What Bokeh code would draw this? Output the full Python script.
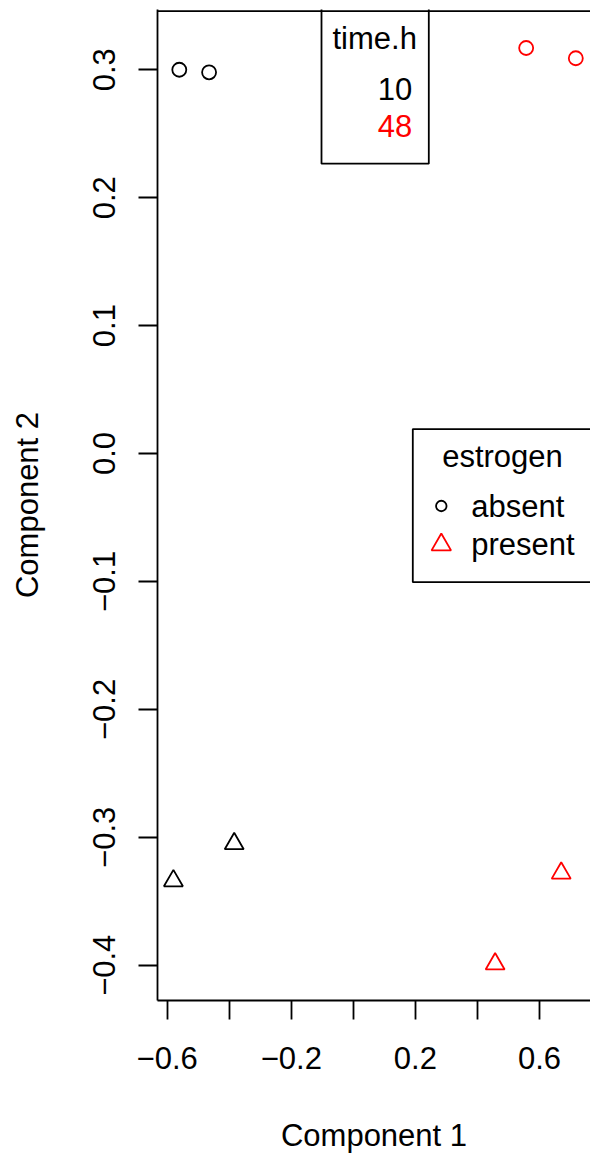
import math
from bokeh.plotting import figure
from bokeh.models import FixedTicker, Range1d, Span, BoxAnnotation, Label, ColumnDataSource
from bokeh.transform import factor_cmap, factor_mark
from bokeh.embed import file_html
from bokeh.resources import INLINE

# ---- data ----
component1 = [-0.561, -0.465, 0.557, 0.717, -0.580, -0.384, 0.457, 0.670]
component2 = [0.300, 0.298, 0.317, 0.309, -0.334, -0.305, -0.399, -0.328]
estrogen = ["absent", "absent", "absent", "absent", "present", "present", "present", "present"]
time_h = ["10", "10", "48", "48", "10", "10", "48", "48"]

time_levels = ["10", "48"]
estrogen_levels = ["absent", "present"]

x_ticks = [-0.6, -0.4, -0.2, 0.0, 0.2, 0.4, 0.6]
x_tick_labels = ["\u22120.6", "", "\u22120.2", "", "0.2", "", "0.6"]
y_ticks = [-0.4, -0.3, -0.2, -0.1, 0.0, 0.1, 0.2, 0.3]
y_tick_labels = ["\u22120.4", "\u22120.3", "\u22120.2", "\u22120.1", "0.0", "0.1", "0.2", "0.3"]

# ---- styles ----
time_colors = ["#000000", "#FF0000"]
estrogen_markers = ["circle", "triangle"]
marker_sizes = {"absent": 14, "present": 19}
FONT = "Liberation Sans"
FS = "31px"
LW = 1.8
TXT_SHIFT = -10.5   # label y correction (px)

# canvas-pixel -> data mapping
PX0, SX = 166.7, 310.25   # x = -0.6 at 166.7 px
PY0, SY = 69.3, 1280.6    # y = 0.3 at 69.3 px


def dx(px):
    return -0.6 + (px - PX0) / SX


def dy(py):
    return 0.3 - (py - PY0) / SY


W, H = 590, 1155
LEFT, RIGHT, TOP, BOTTOM = 157, 590, 9, 1001
p = figure(width=W, height=H, output_backend="svg", toolbar_location=None,
           x_range=Range1d(dx(LEFT), dx(RIGHT)), y_range=Range1d(dy(BOTTOM), dy(TOP)),
           min_border_left=LEFT, min_border_right=W - RIGHT, min_border_top=TOP,
           min_border_bottom=H - BOTTOM)
p.outline_line_color = None
p.xgrid.visible = False
p.ygrid.visible = False
p.background_fill_color = "white"
p.border_fill_color = "white"

for ax in (p.xaxis[0], p.yaxis[0]):
    ax.axis_line_width = LW
    ax.axis_line_color = "black"
    ax.major_tick_line_width = LW
    ax.major_tick_line_color = "black"
    ax.major_tick_out = 19
    ax.major_tick_in = 0
    ax.minor_tick_line_color = None
    ax.major_label_text_font = FONT
    ax.major_label_text_font_size = FS
    ax.major_label_text_color = "black"
    ax.axis_label_text_font = FONT
    ax.axis_label_text_font_size = FS
    ax.axis_label_text_font_style = "normal"
    ax.axis_label_text_color = "black"

p.xaxis.ticker = FixedTicker(ticks=x_ticks)
p.xaxis.major_label_overrides = {t: l for t, l in zip(x_ticks, x_tick_labels)}
p.xaxis.major_label_standoff = 27
p.xaxis.axis_label = "Component 1"
p.xaxis.axis_label_standoff = 46

p.yaxis.ticker = FixedTicker(ticks=y_ticks)
p.yaxis.major_label_overrides = {t: l for t, l in zip(y_ticks, y_tick_labels)}
p.yaxis.major_label_orientation = "parallel"
p.yaxis.major_label_standoff = 23
p.yaxis.axis_label = "Component 2"
p.yaxis.axis_label_standoff = 46

# top border of the box
p.add_layout(Span(location=dy(10.7), dimension="width", line_color="black", line_width=LW))

# ---- points ----
src = ColumnDataSource(dict(x=component1, y=component2, estrogen=estrogen, time_h=time_h,
                            size=[marker_sizes[e] for e in estrogen]))
p.scatter("x", "y", source=src, size="size",
          marker=factor_mark("estrogen", estrogen_markers, estrogen_levels),
          line_color=factor_cmap("time_h", time_colors, time_levels),
          fill_color=None, line_width=LW)


def add_text(px, py, text, align, color="black"):
    p.add_layout(Label(x=dx(px), y=dy(py + TXT_SHIFT), text=text, text_font=FONT,
                       text_font_size=FS, text_align=align, text_baseline="alphabetic",
                       text_color=color))


# ---- legend: time.h ----
p.add_layout(BoxAnnotation(left=dx(321), right=dx(428.3), top=dy(0), bottom=dy(163.3),
                           fill_color="white", fill_alpha=1.0, line_color="black",
                           line_alpha=1.0, line_width=LW, level="underlay"))
add_text(374.2, 48.3, "time.h", "center")
for i, (lev, col) in enumerate(zip(time_levels, time_colors)):
    add_text(411.7, 99.3 + 37 * i, lev, "right", col)

# ---- legend: estrogen ----
p.add_layout(BoxAnnotation(left=dx(412.3), right=dx(600), top=dy(429), bottom=dy(582.3),
                           fill_color="white", fill_alpha=1.0, line_color="black",
                           line_alpha=1.0, line_width=LW, level="underlay"))
add_text(502, 466.7, "estrogen", "center")
leg_marker_y = [506, 544.8]
leg_text_y = [516.7, 555]
leg_marker_size = [10.5, 19.5]
leg_colors = ["#000000", "#FF0000"]
for i, lev in enumerate(estrogen_levels):
    p.scatter(x=[dx(440.8)], y=[dy(leg_marker_y[i])], marker=estrogen_markers[i],
              size=leg_marker_size[i], line_color=leg_colors[i], fill_color=None, line_width=LW)
    add_text(470.7, leg_text_y[i], lev, "left")

open("out.html", "w").write(file_html(p, INLINE))
